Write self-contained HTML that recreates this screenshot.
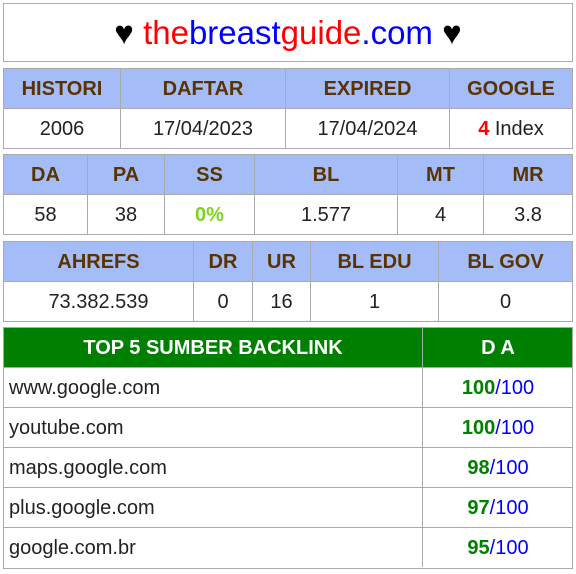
<!DOCTYPE html>
<html><head><meta charset="utf-8"><style>
body{margin:0;width:576px;height:574px;background:#fff;font-family:"Liberation Sans",sans-serif;position:relative;overflow:hidden}
.b{position:absolute;border:1px solid #aaa;box-sizing:border-box}
.c{position:absolute;box-sizing:border-box;border-left:1px solid #aaa;border-top:1px solid #aaa;display:flex;align-items:center;justify-content:center;font-size:20px;color:#222;padding-top:1px}
.h{background:#a4bdf8;color:#5a3300;font-weight:bold}
.g{background:#008000;color:#fff;font-weight:bold}
.l{justify-content:flex-start;padding-left:5px}
.gr{color:#008000;font-weight:bold}.bl{color:#0000ff}
</style></head><body>
<div class="b" style="left:3px;top:3px;width:570px;height:59px;display:flex;align-items:center;justify-content:center;font-size:33px">
<span>♥ <span style="color:#f00">the</span><span style="color:#00f">breast</span><span style="color:#f00">guide</span><span style="color:#00f">.com</span> ♥</span></div>
<div id="root"></div>
<script>
const tables=[
 {y:68,cols:[3,120,285,449,572],rows:[["HISTORI","DAFTAR","EXPIRED","GOOGLE"],["2006","17/04/2023","17/04/2024",'<span style="color:#f00;font-weight:bold">4</span>&nbsp;Index']],name:'domain-info-table'},
 {y:154,cols:[3,87,164,254,397,483,572],rows:[["DA","PA","SS","BL","MT","MR"],["58","38",'<span style="color:#7ed321;font-weight:bold">0%</span>',"1.577","4","3.8"]],name:'metrics-table'},
 {y:241,cols:[3,193,252,310,438,572],rows:[["AHREFS","DR","UR","BL EDU","BL GOV"],["73.382.539","0","16","1","0"]],name:'ahrefs-table'}
];
const sites=["www.google.com","youtube.com","maps.google.com","plus.google.com","google.com.br"];
const das=[100,100,98,97,95];
const root=document.getElementById('root');
function cell(x,y,w,h,html,cls,nm){const d=document.createElement('div');d.className='c '+cls;d.style.cssText=`left:${x}px;top:${y}px;width:${w}px;height:${h}px`;d.innerHTML=html;


root.appendChild(d);}
function frame(x,y,w,h,nm){const d=document.createElement('div');d.className='b';d.style.cssText=`left:${x}px;top:${y}px;width:${w}px;height:${h}px`;


root.appendChild(d);}
tables.forEach(t=>{t.rows.forEach((r,ri)=>{r.forEach((v,ci)=>{cell(t.cols[ci],t.y+ri*40,t.cols[ci+1]-t.cols[ci],40,v,ri?'':'h',(ri?'value-':'header-')+ci);});});frame(3,t.y,570,81,t.name);});
cell(3,327,419,40,"TOP 5 SUMBER BACKLINK","g","backlink-header");
cell(422,327,151,40,"D A","g","da-header");
sites.forEach((s,i)=>{const y=367+i*40;cell(3,y,419,40,s,"l","backlink-site");cell(422,y,151,40,`<span class="gr">${das[i]}</span><span class="bl">/100</span>`,"","backlink-da");});
frame(3,327,570,242,'backlink-table');
</script></body></html>
